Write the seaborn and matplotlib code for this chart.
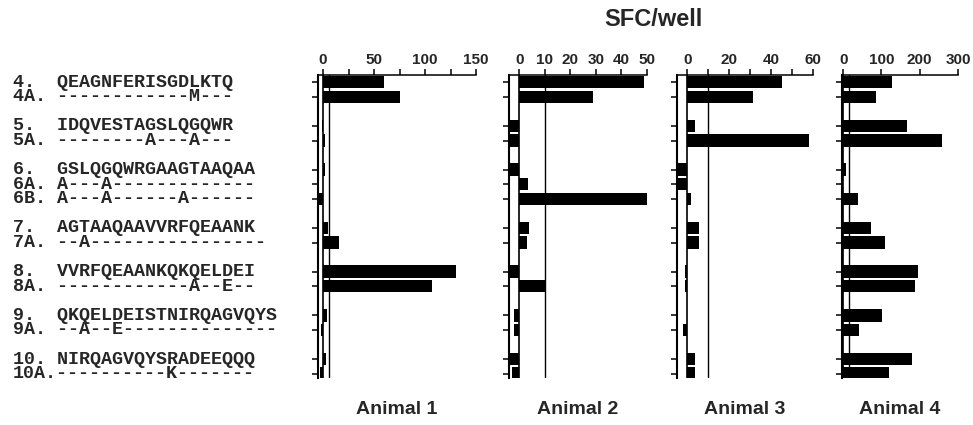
import matplotlib
matplotlib.use("Agg")
import matplotlib.pyplot as plt
import seaborn as sns
import pandas as pd
from matplotlib.ticker import MultipleLocator
from matplotlib.transforms import blended_transform_factory

# peptides and their alanine / conservative substitution variants
peptides = ["4", "4A", "5", "5A", "6", "6A", "6B", "7", "7A",
            "8", "8A", "9", "9A", "10", "10A"]
sequences = [
    "QEAGNFERISGDLKTQ",
    "------------M---",
    "IDQVESTAGSLQGQWR",
    "--------A---A---",
    "GSLQGQWRGAAGTAAQAA",
    "A---A-------------",
    "A---A------A------",
    "AGTAAQAAVVRFQEAANK",
    "--A----------------",
    "VVRFQEAANKQKQELDEI",
    "------------A--E--",
    "QKQELDEISTNIRQAGVQYS",
    "--A--E--------------",
    "NIRQAGVQYSRADEEQQQ",
    "----------K-------",
]

# SFC/well for each animal, same order as peptides
animal_1 = [60, 75, -1, 2, 2, 0, -4, 5, 16, 130, 107, 4, -2, 3, -3]
animal_2 = [49, 29, -5, -5, -5, 3.5, 50, 3.8, 2.9, -5, 10.3, -2, -2, -5, -3]
animal_3 = [45, 31.5, 3.7, 58, -6, -6, 1.6, 5.6, 5.6, -1, -1, 0, -2, 3.5, 3.5]
animal_4 = [128, 85, 167, 257, 7, 0, 39, 72, 110, 196, 187, 101, 42, 179, 120]

animals = ["Animal 1", "Animal 2", "Animal 3", "Animal 4"]
cutoffs = [6, 10, 10, 16]

# row positions: one empty row between peptide groups
row_pos = []
prev_group = None
pos = -1
for p in peptides:
    group = p.rstrip("AB")
    pos += 2 if (prev_group is not None and group != prev_group) else 1
    row_pos.append(pos)
    prev_group = group

frames = []
for name, vals in zip(animals, [animal_1, animal_2, animal_3, animal_4]):
    frames.append(pd.DataFrame({"animal": name, "pos": row_pos, "sfc": vals}))
df = pd.concat(frames, ignore_index=True)

sns.set_style("ticks")
plt.rcParams["font.family"] = ["Liberation Sans", "DejaVu Sans"]

W, H = 973, 425
fig = plt.figure(figsize=(W / 100, H / 100), dpi=100)

x_limits = [(-5, 150), (-4, 50), (-5, 60), (-3, 300)]
tick_steps = [25, 10, 10, 100]
label_steps = [50, 10, 20, 100]
panel_px = [(318, 158), (509, 138), (677, 136), (842, 116)]
top_px, bottom_px = 75, 378

axes = []
for i, name in enumerate(animals):
    left, width = panel_px[i]
    ax = fig.add_axes([left / W, 1 - bottom_px / H, width / W, (bottom_px - top_px) / H])
    sub = df[df["animal"] == name]
    sns.barplot(data=sub, x="sfc", y="pos", orient="h", native_scale=True,
                color="black", saturation=1, width=0.85, errorbar=None,
                linewidth=0, ax=ax)
    ax.axvline(0, color="black", lw=1.2, zorder=3)
    ax.axvline(cutoffs[i], color="black", lw=1.0, zorder=3)
    ax.set_xlim(*x_limits[i])
    ax.set_ylim(20.3, -0.5)
    ax.set(xlabel="", ylabel="")

    ax.xaxis.tick_top()
    ax.xaxis.set_major_locator(MultipleLocator(label_steps[i]))
    ax.xaxis.set_minor_locator(MultipleLocator(tick_steps[i]))
    ax.tick_params(axis="x", which="both", direction="out", length=4, width=1.1,
                   pad=1.5, labelsize=11, color="black")
    for lab in ax.get_xticklabels():
        lab.set_fontweight("bold")
    ax.set_yticks(row_pos)
    ax.set_yticklabels([])
    ax.tick_params(axis="y", direction="out", length=4, width=1.1, color="black")

    for s in ["right", "bottom"]:
        ax.spines[s].set_visible(False)
    ax.spines["top"].set_linewidth(1.1)
    ax.spines["left"].set_linewidth(1.5)
    for s in ["top", "left"]:
        ax.spines[s].set_color("black")

    label_y = -(410 - bottom_px) / (bottom_px - top_px)
    ax.text(0.5, label_y, name, transform=ax.transAxes, ha="center", va="center",
            fontsize=14, fontweight="bold")
    axes.append(ax)

# peptide sequences on the left, aligned to the rows of the first panel
trans = blended_transform_factory(fig.transFigure, axes[0].transData)
for p, seq, y in zip(peptides, sequences, row_pos):
    label = f"{p + '.':<4}{seq}"
    fig.text(13 / W, y, label, transform=trans, ha="left", va="center",
             fontsize=13.2, fontweight="bold", family="Liberation Mono")

fig.text(653 / W, 1 - 19 / H, "SFC/well", ha="center", va="center",
         fontsize=17, fontweight="bold")

fig.savefig("out.png", dpi=100)
